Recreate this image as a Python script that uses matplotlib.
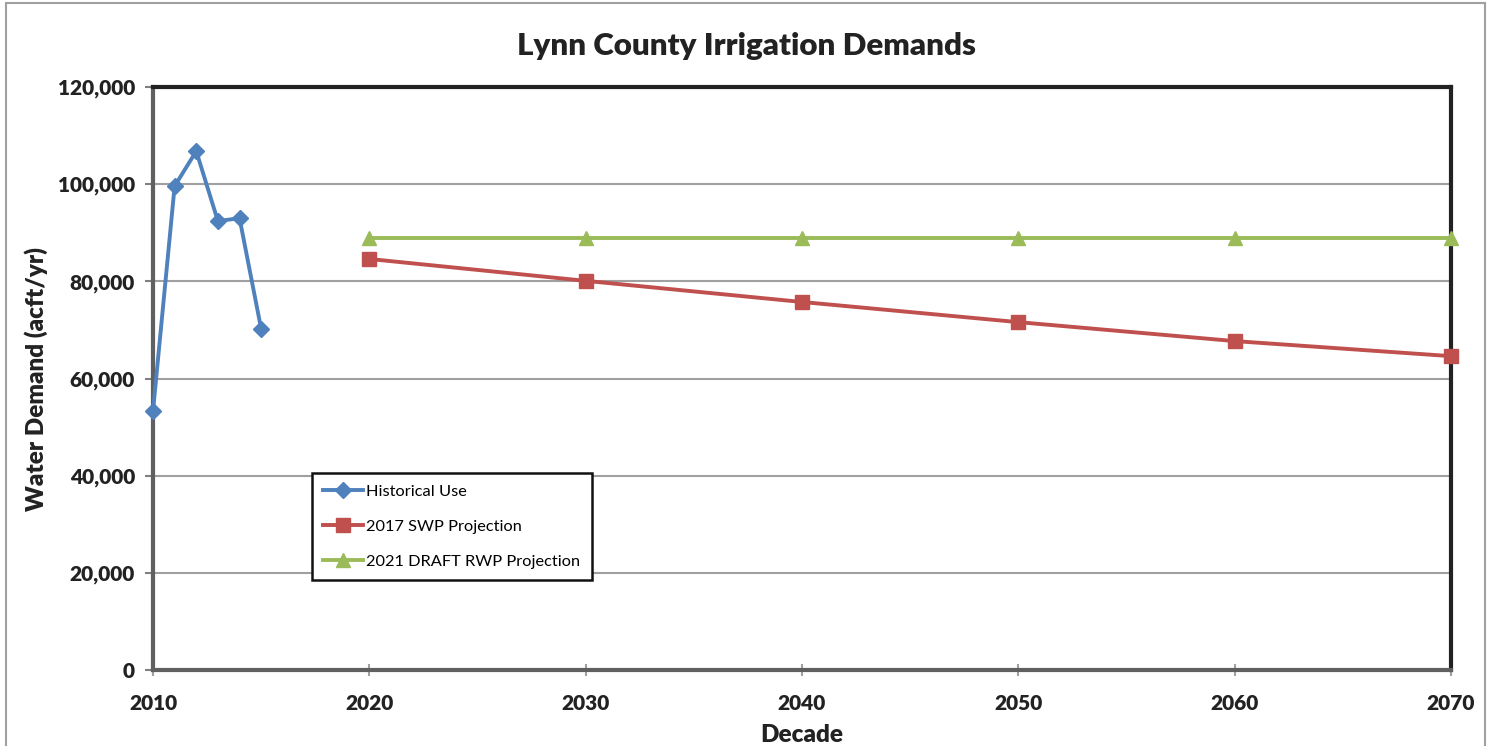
import matplotlib
matplotlib.use("Agg")
import matplotlib.pyplot as plt
from matplotlib.patches import Rectangle
from matplotlib.ticker import FuncFormatter

hist_years = [2010, 2011, 2012, 2013, 2014, 2015]
hist_use = [53300, 99600, 106800, 92400, 93000, 70200]

decades = [2020, 2030, 2040, 2050, 2060, 2070]
swp_2017 = [84600, 80100, 75750, 71600, 67700, 64600]
rwp_2021 = [88900, 88900, 88900, 88900, 88900, 88900]

x_ticks = [2010, 2020, 2030, 2040, 2050, 2060, 2070]
y_ticks = [0, 20000, 40000, 60000, 80000, 100000, 120000]

plt.rcParams['font.family'] = ['Lato', 'DejaVu Sans']

fig = plt.figure(figsize=(14.96, 7.46), dpi=100)
ax = fig.add_axes([153/1496, 1 - 670/746, (1451-153)/1496, (670-87)/746])

# outer frame
fig.patches.append(Rectangle((6/1496, -0.01), (1485-6)/1496, 1 - 3/746 + 0.01,
                             transform=fig.transFigure, fill=False,
                             edgecolor='#a0a0a0', linewidth=1.5))

ax.plot(hist_years, hist_use, color='#4F81BD', lw=2.8, marker='D', ms=8.5,
        label='Historical Use', clip_on=False, zorder=3)
ax.plot(decades, swp_2017, color='#C0504D', lw=2.8, marker='s', ms=10,
        label='2017 SWP Projection', clip_on=False, zorder=3)
ax.plot(decades, rwp_2021, color='#9BBB59', lw=2.8, marker='^', ms=10,
        label='2021 DRAFT RWP Projection', clip_on=False, zorder=3)

ax.set_xlim(2010, 2070)
ax.set_ylim(0, 120000)
ax.set_xticks(x_ticks)
ax.set_yticks(y_ticks)
ax.yaxis.set_major_formatter(FuncFormatter(lambda v, p: f"{int(v):,}"))
ax.grid(axis='y', color='#a0a0a0', lw=1.5, zorder=0)

for lab in ax.get_xticklabels() + ax.get_yticklabels():
    lab.set_fontweight('heavy')
    lab.set_fontsize(15)
    lab.set_color('#222222')
ax.tick_params(axis='y', direction='out', length=6, color='#808080', width=1.5, pad=7)
ax.tick_params(axis='x', direction='inout', length=8, color='#a0a0a0', width=1.5, pad=13)

ax.spines['top'].set_color('#222222')
ax.spines['right'].set_color('#222222')
ax.spines['top'].set_linewidth(3)
ax.spines['right'].set_linewidth(3)
ax.spines['left'].set_color('#606060')
ax.spines['bottom'].set_color('#606060')
ax.spines['left'].set_linewidth(3)
ax.spines['bottom'].set_linewidth(3)

fig.text(746/1496, 1 - 46/746, 'Lynn County Irrigation Demands', fontsize=22.5,
         fontweight='heavy', color='#222222', ha='center', va='center')
ax.set_xlabel('Decade', fontsize=17.5, fontweight='heavy', color='#222222', labelpad=8)
ax.set_ylabel('Water Demand (acft/yr)', fontsize=17.5, fontweight='heavy', color='#222222', labelpad=7)

leg = ax.legend(loc='upper left', bbox_to_anchor=((312-153)/1298, (670-473)/583),
                fontsize=11.8, frameon=True, fancybox=False, framealpha=1,
                edgecolor='#111111', borderpad=0.7, labelspacing=1.25,
                handlelength=2.4, handletextpad=0.2, borderaxespad=0)
leg.get_frame().set_linewidth(1.8)

fig.savefig('out.png', dpi=100)
